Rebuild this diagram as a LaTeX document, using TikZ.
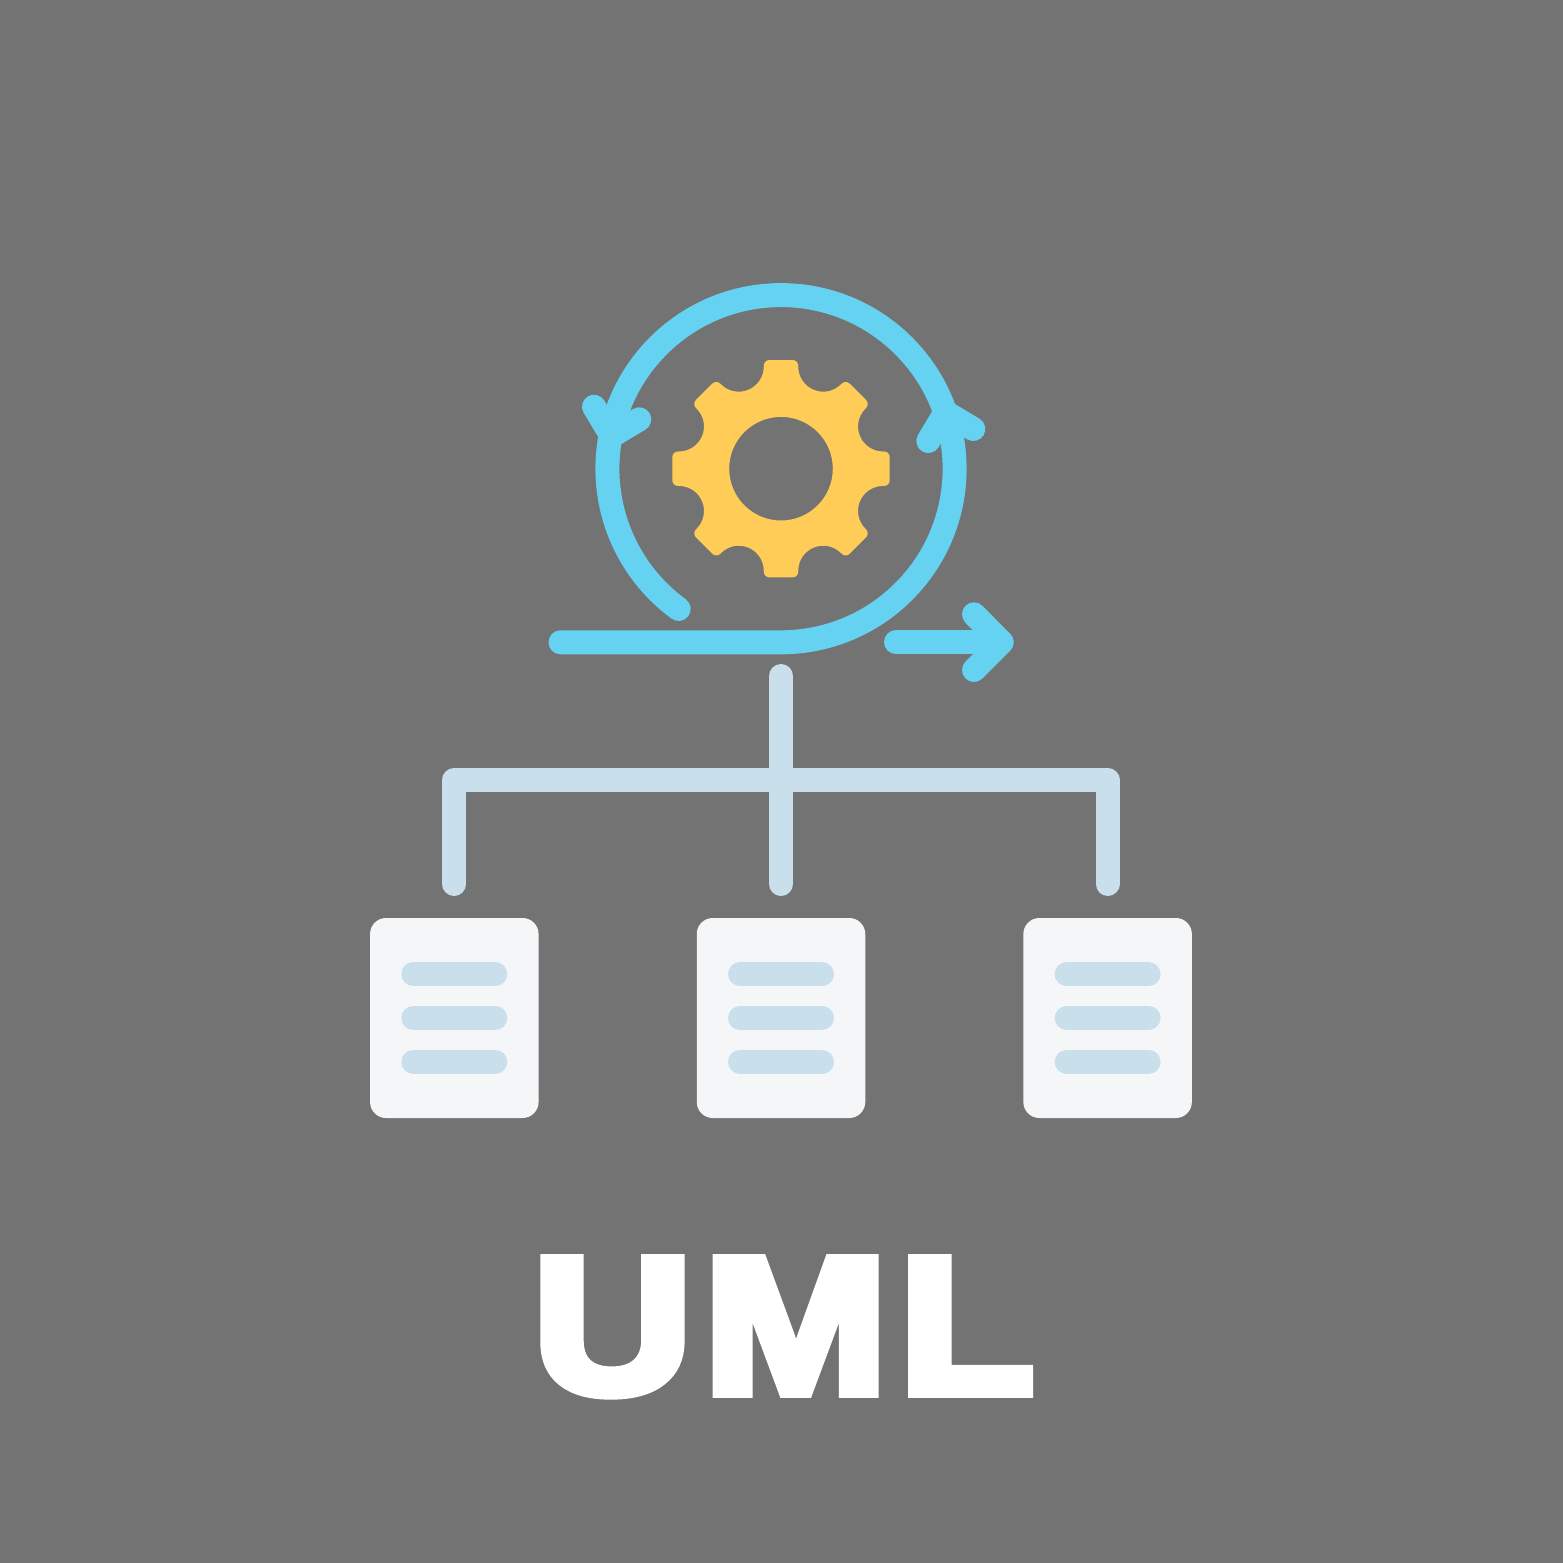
\documentclass[tikz,border=0pt]{standalone}
\usepackage{fontspec}
\newfontfamily\titlefont{Liberation Sans}[BoldFeatures={FakeBold=6,FakeStretch=1.15,LetterSpace=6}]
\definecolor{bgcol}{RGB}{115,115,115}
\definecolor{ringcol}{RGB}{101,210,242}
\definecolor{gearcol}{RGB}{255,204,87}
\definecolor{linkcol}{RGB}{201,223,236}
\definecolor{doccol}{RGB}{245,246,248}
\tikzset{
  ring/.style={draw=ringcol,line width=24pt,line cap=round,line join=round},
  link/.style={draw=linkcol,line width=24pt,line cap=round,line join=round},
  docbox/.style={draw=none,fill=doccol,rounded corners=16pt,minimum width=168.5pt,minimum height=200pt,inner sep=0pt,outer sep=0pt},
  docrow/.style={draw=linkcol,line width=24pt,line cap=round},
  title/.style={text=white,inner sep=0pt,font=\fontsize{192}{192}\selectfont\titlefont\bfseries,anchor=base}
}
\begin{document}
\begin{tikzpicture}[x=1pt,y=-1pt]
\useasboundingbox (0,0) rectangle (1563,1563);
\fill[bgcol] (0,0) rectangle (1563,1563);
% ring
\draw[ring] (560.5,642.3) -- (781,642.3) arc[start angle=90,delta angle=-323.9,radius=173.6];
\draw[ring] (928.3,441) -- (945.5,412.3) -- (973.3,429);
\draw[ring] (594,406.7) -- (611.6,435.9) -- (639.3,419.3);
\draw[ring] (896,642.3) -- (1001.6,642.3);
\draw[ring] (974,614.3) -- (1001.6,642.3) -- (974,670);
% gear
\begin{scope}[shift={(781,468.7)},y=1pt]
\fill[gearcol,even odd rule] ([rotate=0]102,-17.25)
  \foreach \a in {0,45,...,315} {
    .. controls ([rotate=\a]106,-17.6) and ([rotate=\a]108.7,-15) .. ([rotate=\a]108.7,-11.5)
    -- ([rotate=\a]108.7,11.5)
    .. controls ([rotate=\a]108.7,15) and ([rotate=\a]106,17.6) .. ([rotate=\a]102,17.25)
    .. controls ([rotate=\a]91.89,17.25) and ([rotate=\a]82.77,23.34) .. ([rotate=\a]78.9,32.68)
    .. controls ([rotate=\a]75.03,42.02) and ([rotate=\a]77.17,52.78) .. ([rotate=\a]84.32,59.93)
  } -- cycle
  (0,0) circle (51.8);
\end{scope}
% documents
\node[docbox] (doca) at (454.3,1018) {};
\node[docbox] (docb) at (781,1018) {};
\node[docbox] (docc) at (1107.6,1018) {};
\foreach \d in {doca,docb,docc} \foreach \o in {-43.7,0,43.7}
  \draw[docrow] ([xshift=-41pt,yshift=\o pt]\d.center) -- ([xshift=41pt,yshift=\o pt]\d.center);
% connectors
\coordinate (top) at (781,676);
\coordinate (barl) at (454.3,780);
\coordinate (barr) at (1107.6,780);
\draw[link,shorten >=34pt] (top) -- (docb.north);
\draw[link,shorten <=34pt,shorten >=34pt] (doca.north) -- (barl) -- (barr) -- (docc.north);
% title
\node[title] (umltitle) at (783.5,1392) {\pgfsetmiterlimit{1.5}UML};
\end{tikzpicture}
\end{document}
